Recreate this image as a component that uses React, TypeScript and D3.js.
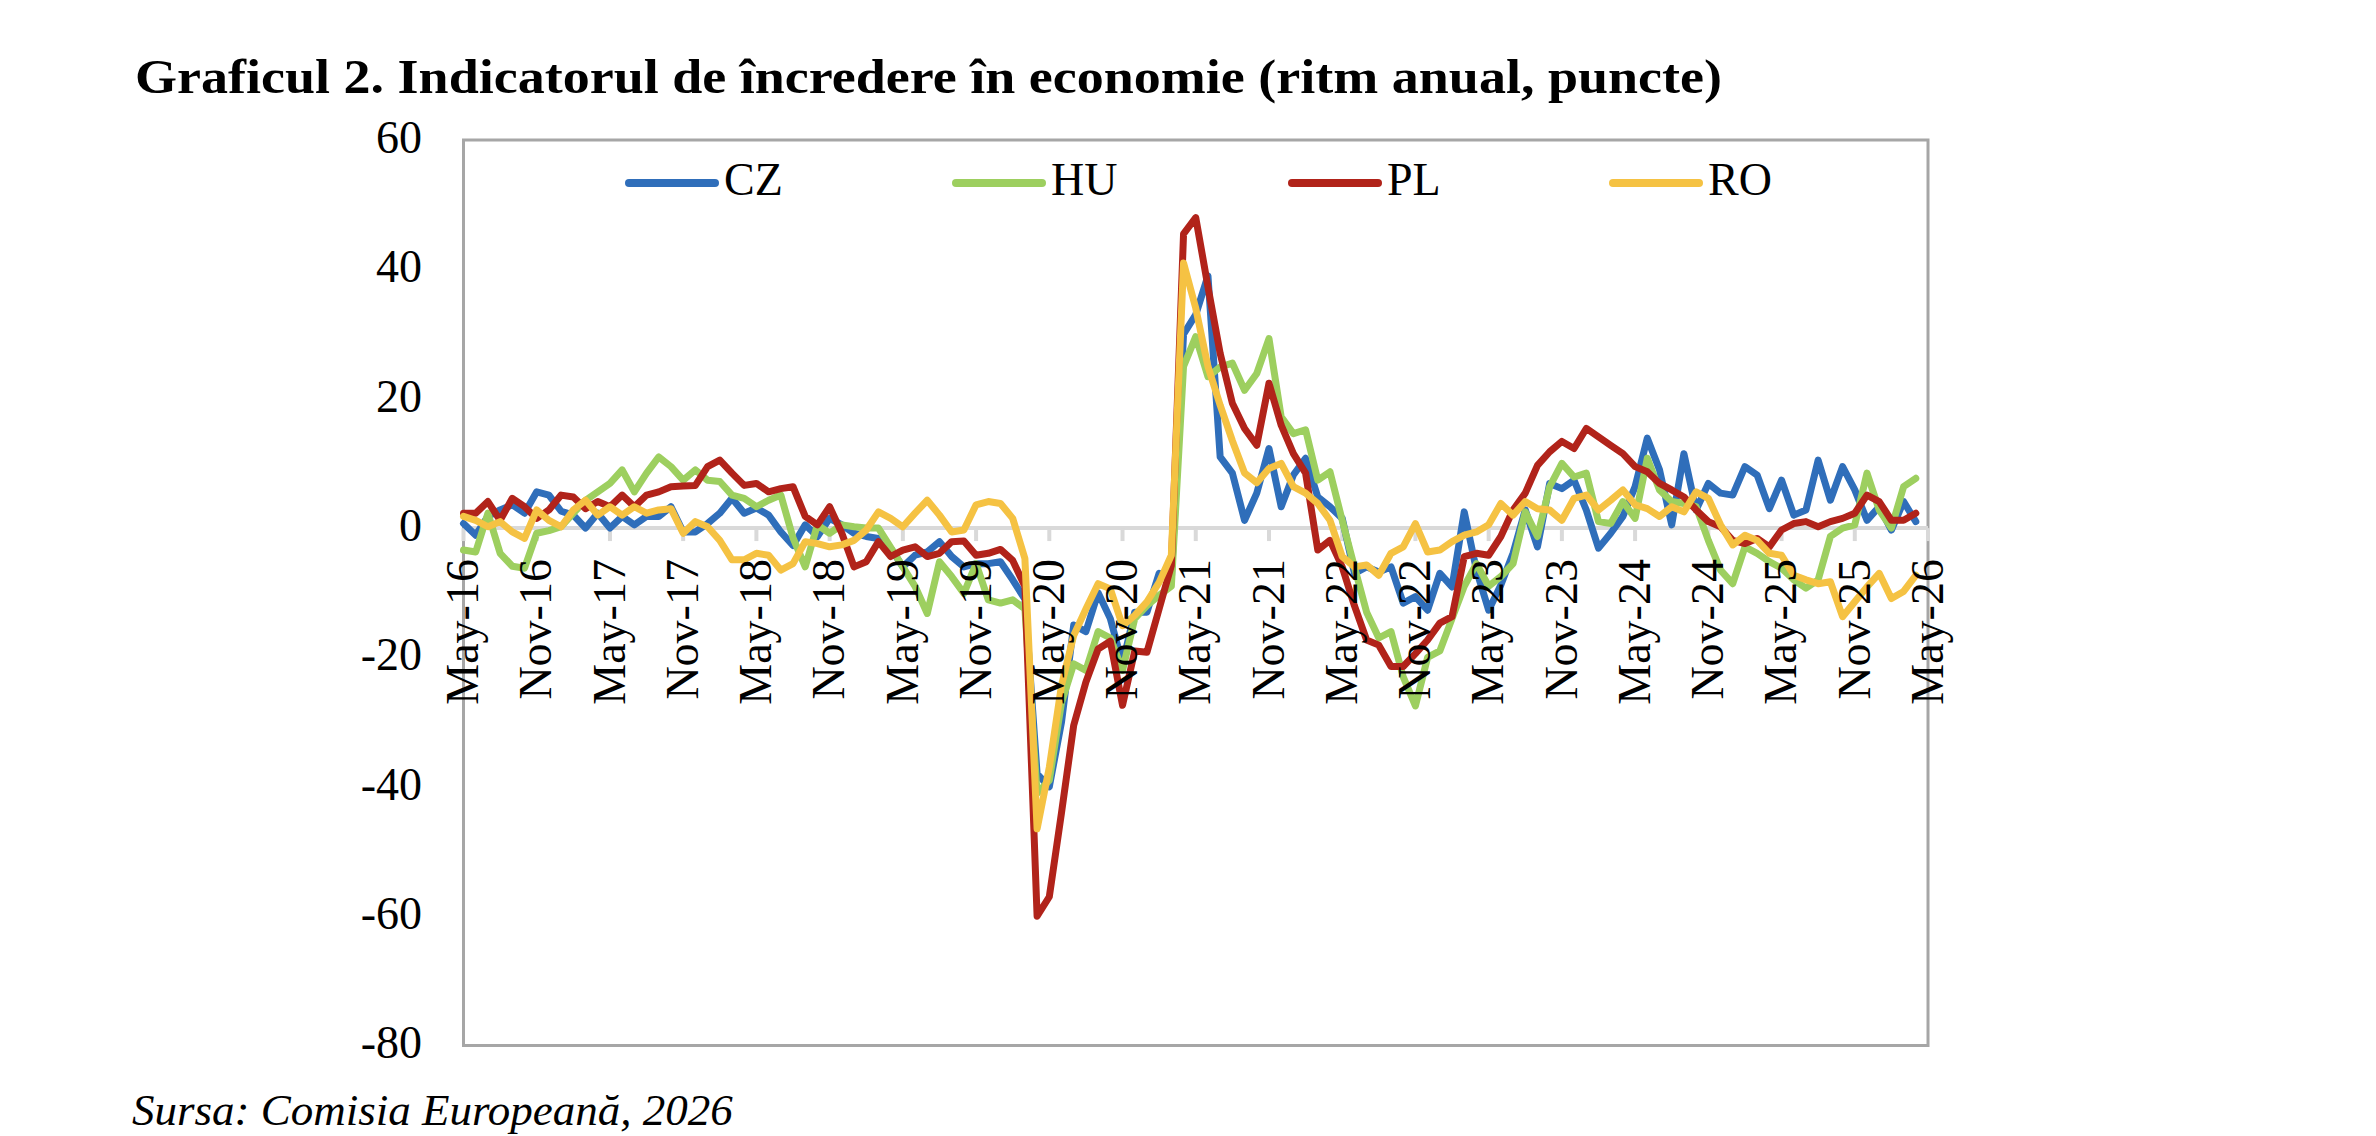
import React from "react";
import * as d3 from "d3";

// Economic sentiment indicator, year-on-year change (points), monthly from May-16 to Apr-26
const CZ = [
  0.7, -1.1, 1.8, 2.8, 3.6, 2.3, 5.6, 5.1, 2.6, 2.0, 0, 2.3,
  0, 1.8, 0.5, 1.8, 1.8, 3.3, -0.6, -0.6, 0.7, 2.3, 4.6, 2.3,
  3.1, 2.0, -0.6, -2.7, 0.5, -1.3, 1.5, 0.5, -0.8, -1.3, -1.6, -3.1,
  -6.0, -4.2, -3.7, -2.1, -4.4, -6.0, -5.5, -5.5, -5.2, -8.0, -11, -38,
  -40, -30, -15, -16, -10, -14, -21, -13, -13, -7, -8, 30,
  33, 39, 11, 8.5, 1.2, 5.4, 12.3, 3.3, 8.2, 10.8, 4.8, 3.3,
  1.5, -7, -6, -6.8, -6, -11.6, -10.6, -12.7, -7, -9.1, 2.5, -6.5,
  -12.7, -8.8, -3.9, 2.8, -2.9, 6.9, 6.1, 7.4, 2.8, -3.1, -0.8, 1.8,
  6.4, 13.9, 9.0, 0.5, 11.5, 2.8, 6.9, 5.4, 5.1, 9.5, 8.2, 3.0,
  7.4, 2.0, 2.8, 10.5, 4.3, 9.5, 5.9, 1.2, 3.3, -0.3, 4.1, 1.0,
];

const HU = [
  -3.4, -3.7, 2.3, -3.9, -5.9, -6.2, -0.8, -0.4, 0.2, 2.3, 4.3, 5.6,
  6.9, 9.0, 5.6, 8.5, 11.0, 9.5, 7.4, 9.0, 7.4, 7.2, 5.1, 4.6,
  3.3, 4.3, 5.1, -1.5, -6.0, 0.5, -0.8, 0.5, 0.2, 0, 0, -3,
  -6, -9, -13.2, -5.2, -7.5, -10.1, -5.5, -11.1, -11.6, -11.1, -12.5, -41,
  -39, -27, -21, -22, -16, -17, -22, -14, -12, -10.4, -9, 25,
  29.6, 23.4, 24.9, 25.5, 21.3, 23.9, 29.3, 17.2, 14.6, 15.2, 7.4, 8.7,
  1.2, -6, -13, -17, -16, -23, -27.5, -20, -19, -14, -9, -5.5,
  -9, -7.5, -5.5, 2.5, -1.3, 6.4, 10.0, 7.9, 8.5, 1.0, 0.7, 4.1,
  1.5, 10.8, 5.9, 4.1, 3.8, 3.3, -1.9, -6.5, -8.6, -2.9, -3.9, -5.2,
  -6.2, -8.0, -9.3, -8.0, -1.3, 0, 0.5, 8.5, 2.8, 0, 6.4, 7.7,
];

const PL = [
  2.3, 2.3, 4.1, 1.2, 4.6, 3.3, 1.5, 2.8, 5.1, 4.8, 3.0, 4.1,
  3.3, 5.1, 3.3, 5.1, 5.6, 6.4, 6.5, 6.6, 9.5, 10.5, 8.5, 6.6,
  6.9, 5.6, 6.1, 6.4, 1.8, 0.5, 3.3, -0.8, -6.0, -5.2, -2.1, -4.4,
  -3.4, -2.9, -4.4, -3.9, -2.1, -2.0, -4.2, -3.9, -3.3, -5.0, -9, -60,
  -57, -44, -30.5, -23.8, -18.7, -17.5, -27.4, -19, -19.2, -12.5, -5.8, 45.5,
  48, 37.3, 27, 19.3, 15.4, 12.8, 22.4, 15.9, 11.5, 8.5, -3.4, -1.9,
  -6.0, -12, -17.3, -18.1, -21.4, -21.4, -19.4, -17.3, -14.7, -13.7, -4.4, -3.9,
  -4.2, -1.3, 2.8, 5.4, 9.7, 11.8, 13.4, 12.3, 15.4, 14.1, 12.8, 11.5,
  9.5, 8.7, 6.9, 5.9, 4.8, 2.8, 1.0, 0.2, -1.9, -2.4, -1.6, -2.9,
  -0.3, 0.7, 1.0, 0.2, 1.0, 1.5, 2.3, 5.1, 4.1, 1.2, 1.2, 2.3,
];

const RO = [
  1.8, 1.2, 0.2, 1.0, -0.6, -1.6, 2.8, 1.2, 0.2, 2.8, 4.3, 2.0,
  3.3, 2.0, 3.3, 2.3, 2.8, 3.0, -0.8, 1.0, 0.2, -1.9, -4.9, -4.9,
  -3.9, -4.2, -6.5, -5.5, -2.1, -2.4, -2.9, -2.6, -1.9, -0.3, 2.5, 1.5,
  0.2, 2.3, 4.3, 2.0, -0.6, -0.3, 3.6, 4.1, 3.8, 1.5, -4.7, -46.5,
  -37, -24.3, -16.6, -12.5, -8.6, -9.4, -15.1, -13.5, -11.4, -8.4, -4.2, 41,
  34, 25, 19, 13.5, 8.5, 7, 9.2, 10, 6.4, 5.4, 3.8, 1.2,
  -4.4, -6, -5.7, -7.3, -3.9, -2.9, 0.7, -3.7, -3.4, -2.1, -1.1, -0.6,
  0.5, 3.8, 2.0, 4.1, 3.0, 2.8, 1.2, 4.6, 5.1, 2.8, 4.3, 5.9,
  3.6, 3.0, 1.8, 3.3, 2.5, 5.6, 4.6, 0.5, -2.6, -1.1, -1.9, -3.9,
  -4.2, -7.3, -8.0, -8.6, -8.3, -13.7, -11.4, -9.1, -7.0, -10.9, -9.8, -7.3,
];

const SERIES_NAMES = ["CZ", "HU", "PL", "RO"];
const SERIES_COLORS = ["#2F6EBA", "#9DCF5F", "#B1231A", "#F5C243"];
const SERIES_VALUES = [CZ, HU, PL, RO];

// Category axis labels, one every six months
const X_TICK_LABELS = [
  "May-16", "Nov-16", "May-17", "Nov-17", "May-18", "Nov-18", "May-19",
  "Nov-19", "May-20", "Nov-20", "May-21", "Nov-21", "May-22", "Nov-22",
  "May-23", "Nov-23", "May-24", "Nov-24", "May-25", "Nov-25", "May-26",
];
const X_TICK_STEP = 6;
const Y_TICKS = [60, 40, 20, 0, -20, -40, -60, -80];

const TITLE = "Graficul 2. Indicatorul de încredere în economie (ritm anual, puncte)";
const SOURCE = "Sursa: Comisia Europeană, 2026";

const W = 2376;
const H = 1136;
const PLOT = { left: 463.5, right: 1928, top: 140, bottom: 1045.5 };
const LEGEND_X = [625, 952, 1288, 1609];
const LEGEND_Y = 183;
const FONT = "'Liberation Serif', 'Times New Roman', Times, serif";

export default function App() {
  const nMonths = (X_TICK_LABELS.length - 1) * X_TICK_STEP;
  const x = d3.scaleLinear().domain([0, nMonths]).range([PLOT.left, PLOT.right]);
  const y = d3.scaleLinear().domain([-80, 60]).range([PLOT.bottom, PLOT.top]);
  const y0 = y(0);

  const line = d3
    .line<number>()
    .x((_, i) => x(i))
    .y((d) => y(d));

  return (
    <div style={{ position: "absolute", left: 0, top: 0 }}>
      <svg width={W} height={H} viewBox={`0 0 ${W} ${H}`} style={{ display: "block", background: "#fff" }}>
        <rect x={0} y={0} width={W} height={H} fill="#fff" />

        <text
          x={135}
          y={93}
          fontFamily={FONT}
          fontWeight="bold"
          fontSize={48}
          fill="#000"
          textLength={1587}
          lengthAdjust="spacingAndGlyphs"
        >
          {TITLE}
        </text>

        {/* plot frame */}
        <rect
          x={PLOT.left}
          y={PLOT.top}
          width={PLOT.right - PLOT.left}
          height={PLOT.bottom - PLOT.top}
          fill="none"
          stroke="#A6A6A6"
          strokeWidth={3}
        />

        {/* horizontal axis at zero with tick marks */}
        <line x1={PLOT.left} x2={PLOT.right} y1={y0} y2={y0} stroke="#D9D9D9" strokeWidth={4} />
        {X_TICK_LABELS.map((_, k) => (
          <line
            key={`t${k}`}
            x1={x(k * X_TICK_STEP)}
            x2={x(k * X_TICK_STEP)}
            y1={y0}
            y2={y0 + 13}
            stroke="#D9D9D9"
            strokeWidth={4}
          />
        ))}

        {/* y axis labels */}
        {Y_TICKS.map((t) => (
          <text
            key={`y${t}`}
            x={422}
            y={y(t)}
            dy="0.28em"
            textAnchor="end"
            fontFamily={FONT}
            fontSize={46}
            fill="#000"
          >
            {t}
          </text>
        ))}

        {/* series */}
        {SERIES_VALUES.map((vals, s) => (
          <path
            key={SERIES_NAMES[s]}
            d={line(vals) || ""}
            fill="none"
            stroke={SERIES_COLORS[s]}
            strokeWidth={7}
            strokeLinejoin="round"
            strokeLinecap="round"
          />
        ))}

        {/* x axis labels, rotated */}
        {X_TICK_LABELS.map((lab, k) => {
          const tx = x(k * X_TICK_STEP);
          const ty = y0 + 31;
          return (
            <text
              key={`x${k}`}
              transform={`translate(${tx},${ty}) rotate(-90)`}
              dy="0.32em"
              textAnchor="end"
              fontFamily={FONT}
              fontSize={46}
              fill="#000"
            >
              {lab}
            </text>
          );
        })}

        {/* legend */}
        {SERIES_NAMES.map((name, s) => (
          <g key={`lg${name}`}>
            <line
              x1={LEGEND_X[s] + 4}
              x2={LEGEND_X[s] + 90}
              y1={LEGEND_Y}
              y2={LEGEND_Y}
              stroke={SERIES_COLORS[s]}
              strokeWidth={8}
              strokeLinecap="round"
            />
            <text x={LEGEND_X[s] + 99} y={LEGEND_Y + 12} fontFamily={FONT} fontSize={46} fill="#000">
              {name}
            </text>
          </g>
        ))}

        <text x={132} y={1125} fontFamily={FONT} fontStyle="italic" fontSize={45} fill="#000">
          {SOURCE}
        </text>
      </svg>
    </div>
  );
}
